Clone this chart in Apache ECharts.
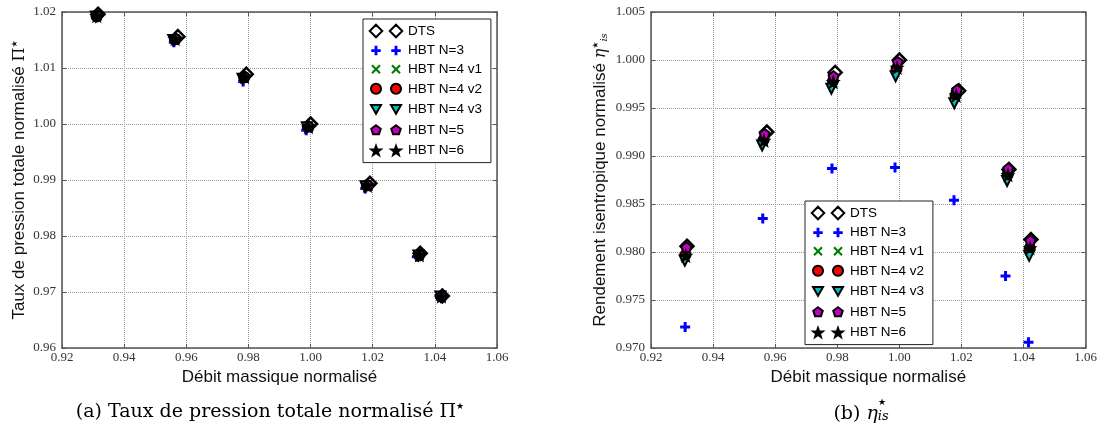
<!DOCTYPE html>
<html>
<head>
<meta charset="utf-8">
<script src="https://cdn.jsdelivr.net/npm/echarts@6/dist/echarts.min.js"></script>
<style>
  html, body { margin: 0; padding: 0; background: #fff; }
  #chart { width: 1100px; height: 435px; }
</style>
</head>
<body>
<div id="chart"></div>
<script>
// axis ranges [min, max, step]
const xRange = [0.92, 1.06, 0.02]
const piRange = [0.96, 1.02, 0.01]
const etaRange = [0.970, 1.005, 0.005]

const names = ['DTS', 'HBT N=3', 'HBT N=4 v1', 'HBT N=4 v2', 'HBT N=4 v3', 'HBT N=5', 'HBT N=6']

// debit massique normalise, one list per method
const xDTS  = [0.9316, 0.9573, 0.9793, 1.0000, 1.0191, 1.0353, 1.0424]
const xN3   = [0.9310, 0.9560, 0.9783, 0.9986, 1.0176, 1.0342, 1.0416]
const xN4v1 = [0.9310, 0.9562, 0.9785, 0.9990, 1.0180, 1.0348, 1.0419]
const xN4v2 = [0.9311, 0.9563, 0.9786, 0.9991, 1.0181, 1.0349, 1.0420]
const xN4v3 = [0.9309, 0.9558, 0.9781, 0.9988, 1.0177, 1.0347, 1.0418]
const xN5   = [0.9314, 0.9566, 0.9788, 0.9995, 1.0186, 1.0351, 1.0422]
const xN6   = [0.9312, 0.9564, 0.9787, 0.9993, 1.0183, 1.0350, 1.0421]

// (a) taux de pression totale normalise
const piDTS  = [1.0196, 1.0156, 1.0089, 1.0000, 0.9894, 0.9769, 0.9693]
const piN3   = [1.0190, 1.0146, 1.0076, 0.9989, 0.9885, 0.9763, 0.9691]
const piN4v1 = [1.0193, 1.0151, 1.0083, 0.9995, 0.9890, 0.9766, 0.9692]
const piN4v2 = [1.0193, 1.0151, 1.0083, 0.9995, 0.9890, 0.9766, 0.9692]
const piN4v3 = [1.0192, 1.0150, 1.0081, 0.9994, 0.9889, 0.9765, 0.9692]
const piN5   = [1.0194, 1.0153, 1.0085, 0.9996, 0.9891, 0.9767, 0.9693]
const piN6   = [1.0193, 1.0152, 1.0084, 0.9995, 0.9890, 0.9766, 0.9692]

// (b) rendement isentropique normalise
const etaDTS  = [0.9806, 0.9925, 0.9987, 1.0000, 0.9968, 0.9886, 0.9813]
const etaN3   = [0.9722, 0.9835, 0.9887, 0.9888, 0.9854, 0.9775, 0.9706]
const etaN4v1 = [0.9795, 0.9915, 0.9976, 0.9990, 0.9962, 0.9880, 0.9803]
const etaN4v2 = [0.9797, 0.9917, 0.9978, 0.9991, 0.9963, 0.9881, 0.9804]
const etaN4v3 = [0.9791, 0.9911, 0.9970, 0.9983, 0.9955, 0.9874, 0.9796]
const etaN5   = [0.9805, 0.9923, 0.9983, 0.9998, 0.9969, 0.9887, 0.9812]
const etaN6   = [0.9796, 0.9916, 0.9977, 0.9992, 0.9963, 0.9880, 0.9804]

const xs = [xDTS, xN3, xN4v1, xN4v2, xN4v3, xN5, xN6]
const pis = [piDTS, piN3, piN4v1, piN4v2, piN4v3, piN5, piN6]
const etas = [etaDTS, etaN3, etaN4v1, etaN4v2, etaN4v3, etaN5, etaN6]

// marker shapes in a 10x10 box
const diaPts = [[5, 0], [10, 5], [5, 10], [0, 5]]
const plusPts = [[3.5, 0], [6.5, 0], [6.5, 3.5], [10, 3.5], [10, 6.5], [6.5, 6.5], [6.5, 10], [3.5, 10], [3.5, 6.5], [0, 6.5], [0, 3.5], [3.5, 3.5]]
const crossPts = [[0, 1.6], [1.6, 0], [5, 3.4], [8.4, 0], [10, 1.6], [6.6, 5], [10, 8.4], [8.4, 10], [5, 6.6], [1.6, 10], [0, 8.4], [3.4, 5]]
const triPts = [[0, 0.7], [10, 0.7], [5, 9.3]]
const pentPts = [[5, 0.3], [9.76, 3.76], [7.94, 9.35], [2.06, 9.35], [0.24, 3.76]]
const starPts = [[5, 0.2], [6.23, 3.7], [9.95, 3.79], [7, 6.05], [8.06, 9.61], [5, 7.5], [1.94, 9.61], [3, 6.05], [0.05, 3.79], [3.77, 3.7]]
const circPts = []
for (let i = 0; i < 24; i++) {
  let a = i / 24 * Math.PI * 2
  circPts.push([5 + 5 * Math.cos(a), 5 + 5 * Math.sin(a)])
}

function poly (pts, s, cx, cy) {
  return 'M' + pts.map(p => ((p[0] - 5) * s + cx).toFixed(2) + ',' + ((p[1] - 5) * s + cy).toFixed(2)).join(' L') + ' Z'
}
// two markers side by side, like the matplotlib legend
function twin (pts, s) {
  return 'path://M0,0 L0.01,0 M34,14 L33.99,14 ' + poly(pts, s, 7, 7) + ' ' + poly(pts, s, 27, 7)
}
function mark (pts) {
  return 'path://' + poly(pts, 1, 5, 5)
}

const looks = [
  {symbol: 'diamond', size: 13, item: {color: '#fff', borderColor: '#000', borderWidth: 2.5, opacity: 1}, icon: twin(diaPts, 1.25)},
  {symbol: mark(plusPts), size: 10, item: {color: '#0000ff', opacity: 1}, icon: twin(plusPts, 0.95)},
  {symbol: mark(crossPts), size: 10, item: {color: '#008000', opacity: 1}, icon: twin(crossPts, 0.95)},
  {symbol: 'circle', size: 10, item: {color: '#ff0000', borderColor: '#000', borderWidth: 2, opacity: 1}, icon: twin(circPts, 1)},
  {symbol: mark(triPts), size: 10, item: {color: '#00bfbf', borderColor: '#000', borderWidth: 2, opacity: 1}, icon: twin(triPts, 1)},
  {symbol: mark(pentPts), size: 10, item: {color: '#bf00bf', borderColor: '#000', borderWidth: 2, opacity: 1}, icon: twin(pentPts, 1)},
  {symbol: mark(starPts), size: 11, item: {color: '#000', borderColor: '#000', borderWidth: 1.5, opacity: 1}, icon: twin(starPts, 0.95)}
]

const axisCol = '#555'
const tickFont = {fontFamily: 'Liberation Serif', fontSize: 13, color: '#333'}
const nameFont = {fontFamily: 'Liberation Sans', fontSize: 17, color: '#111'}

function xAxisOf (grid, top) {
  return {
    type: 'value', gridIndex: grid, position: top ? 'top' : 'bottom',
    min: xRange[0], max: xRange[1], interval: xRange[2],
    axisLine: {show: true, onZero: false, lineStyle: {color: axisCol, width: 1.5}},
    axisTick: {show: true, inside: true, length: 4, lineStyle: {color: axisCol}},
    axisLabel: {show: !top, margin: 3, formatter: v => v.toFixed(2), ...tickFont},
    splitLine: {show: !top, lineStyle: {type: 'dotted', color: '#999'}},
    name: top ? '' : 'Débit massique normalisé',
    nameLocation: 'middle', nameGap: 14, nameTextStyle: nameFont
  }
}
function yAxisOf (grid, right, range, digits, name, gap) {
  return {
    type: 'value', gridIndex: grid, position: right ? 'right' : 'left',
    min: range[0], max: range[1], interval: range[2],
    axisLine: {show: true, onZero: false, lineStyle: {color: axisCol, width: 1.5}},
    axisTick: {show: true, inside: true, length: 4, lineStyle: {color: axisCol}},
    axisLabel: {show: !right, margin: 6, formatter: v => v.toFixed(digits), ...tickFont},
    splitLine: {show: !right, lineStyle: {type: 'dotted', color: '#999'}},
    name: right ? '' : name,
    nameLocation: 'middle', nameGap: gap, nameRotate: 90,
    nameTextStyle: {
      ...nameFont,
      rich: {
        m: {fontFamily: 'DejaVu Serif', fontSize: 16, color: '#111'},
        e: {fontFamily: 'DejaVu Serif', fontStyle: 'italic', fontSize: 16, color: '#111'},
        s: {fontFamily: 'DejaVu Sans', fontSize: 8, color: '#111', verticalAlign: 'top'},
        b: {fontFamily: 'DejaVu Serif', fontStyle: 'italic', fontSize: 10, color: '#111', verticalAlign: 'bottom'}
      }
    }
  }
}

const series = []
names.forEach((n, i) => {
  let lk = looks[i]
  series.push({
    name: n, type: 'scatter', xAxisIndex: 0, yAxisIndex: 0,
    symbol: lk.symbol, symbolSize: lk.size, itemStyle: lk.item, silent: true,
    data: xs[i].map((x, k) => [x, pis[i][k]])
  })
  series.push({
    name: n, type: 'scatter', xAxisIndex: 2, yAxisIndex: 2,
    symbol: lk.symbol, symbolSize: lk.size, itemStyle: lk.item, silent: true,
    data: xs[i].map((x, k) => [x, etas[i][k]])
  })
})

function legendAt (left, top) {
  return {
    orient: 'vertical', left: left, top: top,
    itemWidth: 34, itemHeight: 14, itemGap: 4.6,
    padding: [4, 9, 4, 5],
    borderColor: '#222', borderWidth: 1, borderRadius: 0, backgroundColor: '#fff',
    selectedMode: false,
    textStyle: {fontFamily: 'Liberation Sans', fontSize: 13.5, color: '#000'},
    data: names.map((n, i) => ({name: n, icon: looks[i].icon}))
  }
}

const capFont = {fontFamily: 'DejaVu Serif', fontSize: 19, fill: '#000'}

const option = {
  animation: false,
  backgroundColor: '#fff',
  grid: [
    {left: 62, right: 603, top: 12, bottom: 87},
    {left: 651, right: 14, top: 12, bottom: 87}
  ],
  xAxis: [xAxisOf(0, false), xAxisOf(0, true), xAxisOf(1, false), xAxisOf(1, true)],
  yAxis: [
    yAxisOf(0, false, piRange, 2, 'Taux de pression totale normalisé {m|Π}{s|★}', 34),
    yAxisOf(0, true, piRange, 2, '', 0),
    yAxisOf(1, false, etaRange, 3, 'Rendement isentropique normalisé {e|η}{s|★}{b|is}', 42),
    yAxisOf(1, true, etaRange, 3, '', 0)
  ],
  legend: [legendAt(363, 19), legendAt(805, 201)],
  series: series,
  graphic: [
    {
      type: 'text', x: 270, y: 412,
      style: {
        text: '{c|(a) Taux de pression totale normalisé Π}{s|★}',
        align: 'center', verticalAlign: 'middle',
        rich: {c: capFont, s: {fontFamily: 'DejaVu Sans', fontSize: 9, fill: '#000', verticalAlign: 'top'}}
      }
    },
    {
      type: 'text', x: 861, y: 414,
      style: {
        text: '{c|(b) }{e|η}{b|is}',
        align: 'center', verticalAlign: 'middle',
        rich: {
          c: capFont,
          e: {fontFamily: 'DejaVu Serif', fontStyle: 'italic', fontSize: 19, fill: '#000'},
          b: {fontFamily: 'DejaVu Serif', fontStyle: 'italic', fontSize: 13, fill: '#000', verticalAlign: 'bottom'}
        }
      }
    },
    {
      type: 'text', x: 882, y: 403,
      style: {text: '★', align: 'center', verticalAlign: 'middle', fontFamily: 'DejaVu Sans', fontSize: 9, fill: '#000'}
    }
  ]
}

echarts.init(document.getElementById('chart')).setOption(option)
</script>
</body>
</html>
